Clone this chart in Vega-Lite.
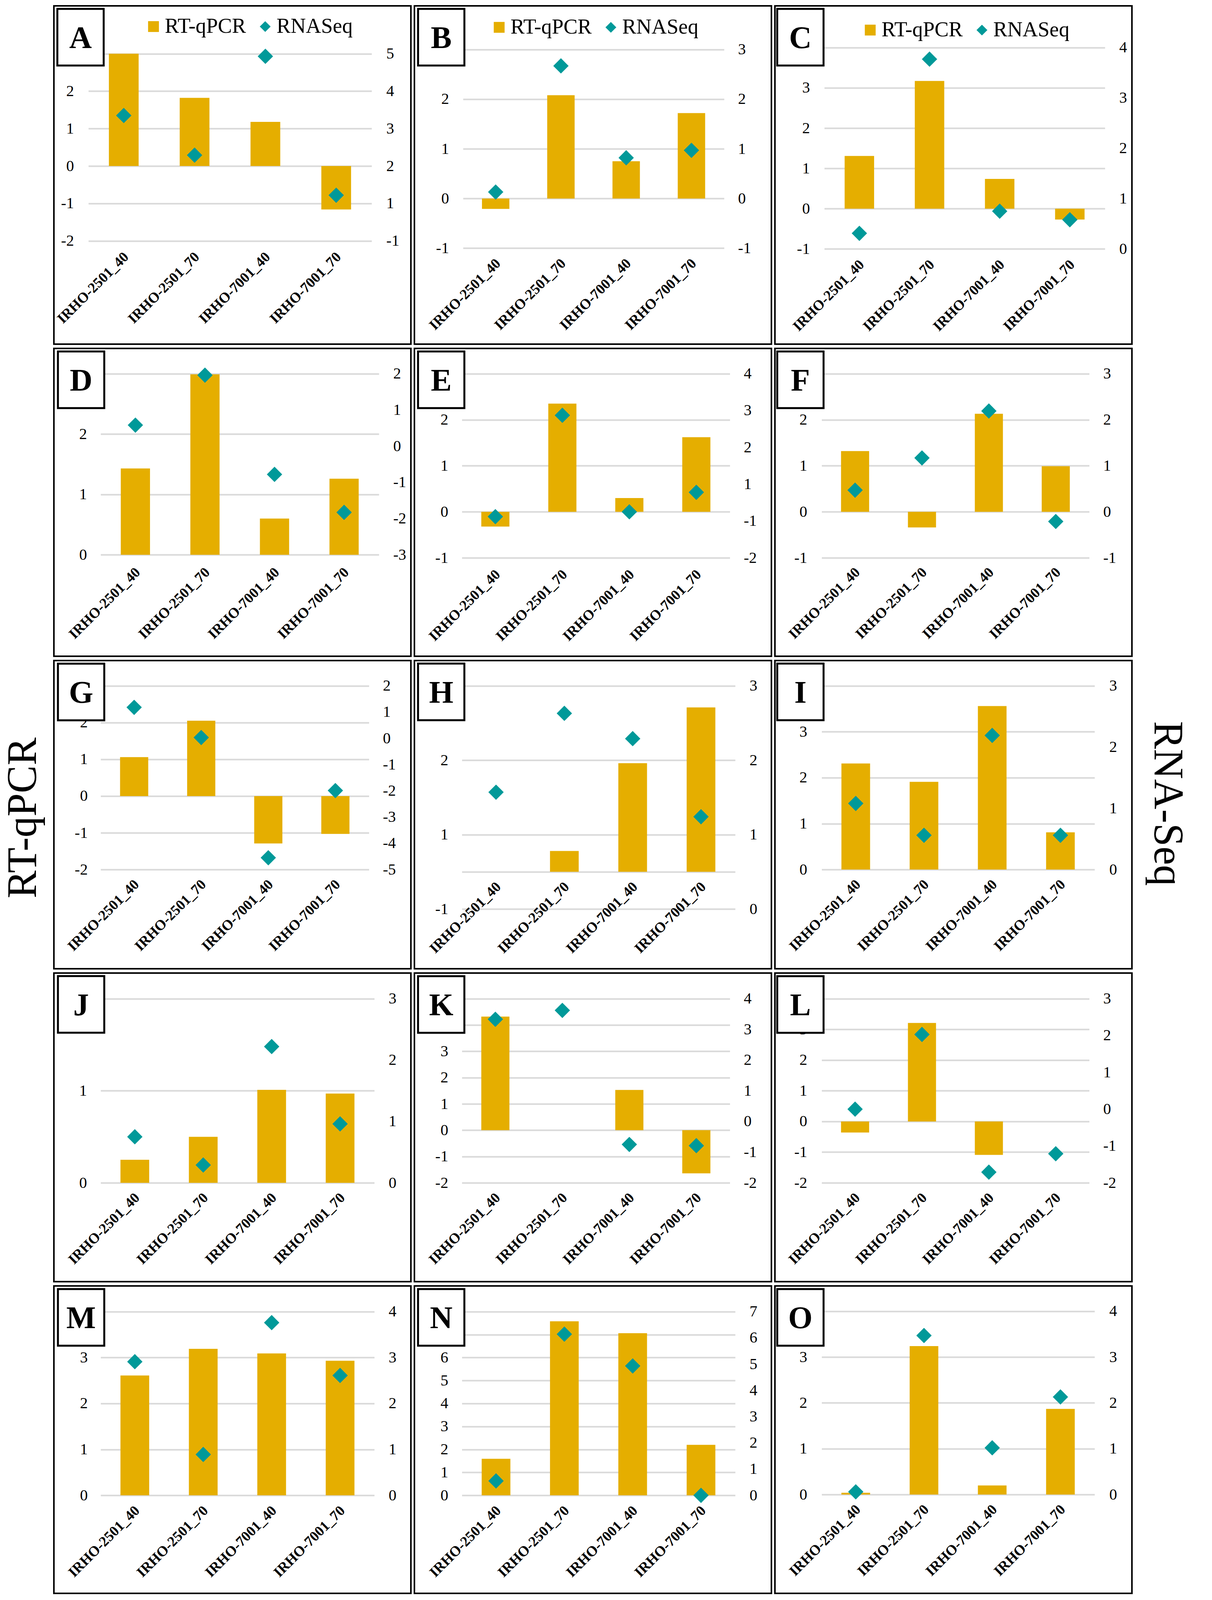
{
"$schema": "https://vega.github.io/schema/vega-lite/v6.json",
"background": "white",
"padding": {"left": 5, "top": 10, "right": 5, "bottom": 4},
"datasets": {
"panels": [{"panel":"A"},{"panel":"B"},{"panel":"C"},{"panel":"D"},{"panel":"E"},{"panel":"F"},{"panel":"G"},{"panel":"H"},{"panel":"I"},{"panel":"J"},{"panel":"K"},{"panel":"L"},{"panel":"M"},{"panel":"N"},{"panel":"O"}],
"vals": [
{"panel":"A","sample":"IRHO-2501_40","rtqpcr":3.0,"rnaseq":3.35},
{"panel":"A","sample":"IRHO-2501_70","rtqpcr":1.82,"rnaseq":2.29},
{"panel":"A","sample":"IRHO-7001_40","rtqpcr":1.18,"rnaseq":4.93},
{"panel":"A","sample":"IRHO-7001_70","rtqpcr":-1.16,"rnaseq":1.22},
{"panel":"B","sample":"IRHO-2501_40","rtqpcr":-0.21,"rnaseq":0.13},
{"panel":"B","sample":"IRHO-2501_70","rtqpcr":2.08,"rnaseq":2.67},
{"panel":"B","sample":"IRHO-7001_40","rtqpcr":0.75,"rnaseq":0.82},
{"panel":"B","sample":"IRHO-7001_70","rtqpcr":1.72,"rnaseq":0.97},
{"panel":"C","sample":"IRHO-2501_40","rtqpcr":1.31,"rnaseq":0.31},
{"panel":"C","sample":"IRHO-2501_70","rtqpcr":3.17,"rnaseq":3.77},
{"panel":"C","sample":"IRHO-7001_40","rtqpcr":0.74,"rnaseq":0.75},
{"panel":"C","sample":"IRHO-7001_70","rtqpcr":-0.27,"rnaseq":0.58},
{"panel":"D","sample":"IRHO-2501_40","rtqpcr":1.43,"rnaseq":0.58},
{"panel":"D","sample":"IRHO-2501_70","rtqpcr":2.99,"rnaseq":1.96},
{"panel":"D","sample":"IRHO-7001_40","rtqpcr":0.60,"rnaseq":-0.78},
{"panel":"D","sample":"IRHO-7001_70","rtqpcr":1.26,"rnaseq":-1.83},
{"panel":"E","sample":"IRHO-2501_40","rtqpcr":-0.32,"rnaseq":0.12},
{"panel":"E","sample":"IRHO-2501_70","rtqpcr":2.35,"rnaseq":2.87},
{"panel":"E","sample":"IRHO-7001_40","rtqpcr":0.30,"rnaseq":0.25},
{"panel":"E","sample":"IRHO-7001_70","rtqpcr":1.62,"rnaseq":0.78},
{"panel":"F","sample":"IRHO-2501_40","rtqpcr":1.32,"rnaseq":0.47},
{"panel":"F","sample":"IRHO-2501_70","rtqpcr":-0.34,"rnaseq":1.17},
{"panel":"F","sample":"IRHO-7001_40","rtqpcr":2.13,"rnaseq":2.19},
{"panel":"F","sample":"IRHO-7001_70","rtqpcr":0.99,"rnaseq":-0.21},
{"panel":"G","sample":"IRHO-2501_40","rtqpcr":1.06,"rnaseq":1.18},
{"panel":"G","sample":"IRHO-2501_70","rtqpcr":2.05,"rnaseq":0.03},
{"panel":"G","sample":"IRHO-7001_40","rtqpcr":-1.29,"rnaseq":-4.55},
{"panel":"G","sample":"IRHO-7001_70","rtqpcr":-1.03,"rnaseq":-1.99},
{"panel":"H","sample":"IRHO-2501_40","rtqpcr":0,"rnaseq":1.57},
{"panel":"H","sample":"IRHO-2501_70","rtqpcr":0.28,"rnaseq":2.63},
{"panel":"H","sample":"IRHO-7001_40","rtqpcr":1.46,"rnaseq":2.29},
{"panel":"H","sample":"IRHO-7001_70","rtqpcr":2.21,"rnaseq":1.24},
{"panel":"I","sample":"IRHO-2501_40","rtqpcr":2.31,"rnaseq":1.08},
{"panel":"I","sample":"IRHO-2501_70","rtqpcr":1.91,"rnaseq":0.56},
{"panel":"I","sample":"IRHO-7001_40","rtqpcr":3.56,"rnaseq":2.19},
{"panel":"I","sample":"IRHO-7001_70","rtqpcr":0.81,"rnaseq":0.56},
{"panel":"J","sample":"IRHO-2501_40","rtqpcr":0.25,"rnaseq":0.75},
{"panel":"J","sample":"IRHO-2501_70","rtqpcr":0.50,"rnaseq":0.29},
{"panel":"J","sample":"IRHO-7001_40","rtqpcr":1.01,"rnaseq":2.22},
{"panel":"J","sample":"IRHO-7001_70","rtqpcr":0.97,"rnaseq":0.96},
{"panel":"K","sample":"IRHO-2501_40","rtqpcr":4.32,"rnaseq":3.33},
{"panel":"K","sample":"IRHO-2501_70","rtqpcr":0,"rnaseq":3.62},
{"panel":"K","sample":"IRHO-7001_40","rtqpcr":1.53,"rnaseq":-0.75},
{"panel":"K","sample":"IRHO-7001_70","rtqpcr":-1.64,"rnaseq":-0.79},
{"panel":"L","sample":"IRHO-2501_40","rtqpcr":-0.36,"rnaseq":0.0},
{"panel":"L","sample":"IRHO-2501_70","rtqpcr":3.21,"rnaseq":2.03},
{"panel":"L","sample":"IRHO-7001_40","rtqpcr":-1.09,"rnaseq":-1.71},
{"panel":"L","sample":"IRHO-7001_70","rtqpcr":0,"rnaseq":-1.21},
{"panel":"M","sample":"IRHO-2501_40","rtqpcr":2.61,"rnaseq":2.91},
{"panel":"M","sample":"IRHO-2501_70","rtqpcr":3.19,"rnaseq":0.89},
{"panel":"M","sample":"IRHO-7001_40","rtqpcr":3.09,"rnaseq":3.76},
{"panel":"M","sample":"IRHO-7001_70","rtqpcr":2.93,"rnaseq":2.61},
{"panel":"N","sample":"IRHO-2501_40","rtqpcr":1.59,"rnaseq":0.55},
{"panel":"N","sample":"IRHO-2501_70","rtqpcr":7.58,"rnaseq":6.14},
{"panel":"N","sample":"IRHO-7001_40","rtqpcr":7.06,"rnaseq":4.93},
{"panel":"N","sample":"IRHO-7001_70","rtqpcr":2.20,"rnaseq":0.0},
{"panel":"O","sample":"IRHO-2501_40","rtqpcr":0.04,"rnaseq":0.06},
{"panel":"O","sample":"IRHO-2501_70","rtqpcr":3.24,"rnaseq":3.47},
{"panel":"O","sample":"IRHO-7001_40","rtqpcr":0.20,"rnaseq":1.02},
{"panel":"O","sample":"IRHO-7001_70","rtqpcr":1.87,"rnaseq":2.13}
]
},
"title": {"text": "RT-qPCR", "orient": "left", "anchor": "middle", "offset": 21, "dx": -48},
"hconcat": [
{
"title": {"text": "RNA-Seq", "orient": "right", "anchor": "middle", "offset": 34, "dx": 11},
"columns": 3,
"bounds": "flush",
"align": "each",
"spacing": {"row": 11, "column": 9},
"resolve": {"scale": {"color": "independent", "shape": "independent"}, "legend": {"color": "independent", "shape": "independent"}},
"concat": [
{"width":914,"height":866,"resolve":{"scale":{"y":"independent"}},"layer":[
{"layer":[
{"data":{"name":"vals"},"transform":[{"filter":"datum.panel == 'A'"}],"mark":{"type":"bar"},"encoding":{
"x":{"field":"sample","type":"nominal","scale":{"domain":["IRHO-2501_40","IRHO-2501_70","IRHO-7001_40","IRHO-7001_70"],"range":[88.2,813.4],"paddingInner":0.58,"paddingOuter":0.29},"axis":{"title":null,"offset":-242}},
"y":{"field":"rtqpcr","type":"quantitative","scale":{"domain":[-2,3],"range":[601.7,122.5],"nice":false,"zero":false},"axis":{"title":null,"offset":-51,"values":[-2,-1,0,1,2,3],"grid":true,"labelExpr":"datum.value >= 3 ? '' : (datum.value < 0 ? '-' : '') + abs(datum.value)"}},
"color":{"datum":"RT-qPCR","type":"nominal","scale":{"domain":["RT-qPCR","RNASeq"],"range":["#E5AE00","#009999"]},"legend":{"title":null,"orient":"none","legendX":228,"legendY":26,"direction":"horizontal"}}}},
{"data":{"name":"panels"},"transform":[{"filter":"datum.panel == 'A'"}],"mark":{"type":"point","shape":"M-0.818,-1L0.818,-1L0.818,1L-0.818,1Z","size":21025,"filled":true,"fill":"white","stroke":"black","strokeWidth":5,"opacity":1},"encoding":{"x":{"datum":"IRHO-2501_40","type":"nominal","bandPosition":-0.954,"axis":{"title":null}},"y":{"datum":3.44,"type":"quantitative","axis":{"title":null}}}},
{"data":{"name":"panels"},"transform":[{"filter":"datum.panel == 'A'"}],"mark":{"type":"text","font":"Liberation Serif","fontWeight":"bold","fontSize":80,"color":"black","align":"center","baseline":"middle","dy":4},"encoding":{"x":{"datum":"IRHO-2501_40","type":"nominal","bandPosition":-0.954,"axis":{"title":null}},"y":{"datum":3.44,"type":"quantitative","axis":{"title":null}},"text":{"field":"panel"}}}
]},
{"data":{"name":"vals"},"transform":[{"filter":"datum.panel == 'A'"}],"mark":{"type":"point","filled":true,"size":1540,"opacity":1},"encoding":{
"x":{"field":"sample","type":"nominal","axis":{"title":null}},
"y":{"field":"rnaseq","type":"quantitative","scale":{"domain":[0,5],"range":[601.7,122.5],"nice":false,"zero":false},"axis":{"title":null,"orient":"right","offset":-63.4,"values":[0,1,2,3,4,5],"grid":false,"labelExpr":"datum.value == 0 ? '-1' : '' + datum.value"}},
"color":{"datum":"RNASeq","type":"nominal","scale":{"domain":["RT-qPCR","RNASeq"],"range":["#E5AE00","#009999"]},"legend":{"title":null,"orient":"none","legendX":228,"legendY":26,"direction":"horizontal"}},
"shape":{"datum":"RNASeq","type":"nominal","scale":{"domain":["RT-qPCR","RNASeq"],"range":["square","diamond"]},"legend":{"title":null,"orient":"none","legendX":228,"legendY":26,"direction":"horizontal"}}}}
]},
{"width":914,"height":866,"resolve":{"scale":{"y":"independent"}},"layer":[
{"layer":[
{"data":{"name":"vals"},"transform":[{"filter":"datum.panel == 'B'"}],"mark":{"type":"bar"},"encoding":{
"x":{"field":"sample","type":"nominal","scale":{"domain":["IRHO-2501_40","IRHO-2501_70","IRHO-7001_40","IRHO-7001_70"],"range":[124.5,792.8],"paddingInner":0.58,"paddingOuter":0.29},"axis":{"title":null,"offset":-225.3}},
"y":{"field":"rtqpcr","type":"quantitative","scale":{"domain":[-1,3],"range":[620.3,111.7],"nice":false,"zero":false},"axis":{"title":null,"offset":-88.2,"values":[-1,0,1,2,3],"grid":true,"labelExpr":"datum.value >= 3 ? '' : (datum.value < 0 ? '-' : '') + abs(datum.value)"}},
"color":{"datum":"RT-qPCR","type":"nominal","scale":{"domain":["RT-qPCR","RNASeq"],"range":["#E5AE00","#009999"]},"legend":{"title":null,"orient":"none","legendX":190,"legendY":28,"direction":"horizontal"}}}},
{"data":{"name":"panels"},"transform":[{"filter":"datum.panel == 'B'"}],"mark":{"type":"point","shape":"M-0.818,-1L0.818,-1L0.818,1L-0.818,1Z","size":21025,"filled":true,"fill":"white","stroke":"black","strokeWidth":5,"opacity":1},"encoding":{"x":{"datum":"IRHO-2501_40","type":"nominal","bandPosition":-1.4865,"axis":{"title":null}},"y":{"datum":3.247,"type":"quantitative","axis":{"title":null}}}},
{"data":{"name":"panels"},"transform":[{"filter":"datum.panel == 'B'"}],"mark":{"type":"text","font":"Liberation Serif","fontWeight":"bold","fontSize":80,"color":"black","align":"center","baseline":"middle","dy":4},"encoding":{"x":{"datum":"IRHO-2501_40","type":"nominal","bandPosition":-1.4865,"axis":{"title":null}},"y":{"datum":3.247,"type":"quantitative","axis":{"title":null}},"text":{"field":"panel"}}}
]},
{"data":{"name":"vals"},"transform":[{"filter":"datum.panel == 'B'"}],"mark":{"type":"point","filled":true,"size":1540,"opacity":1},"encoding":{
"x":{"field":"sample","type":"nominal","axis":{"title":null}},
"y":{"field":"rnaseq","type":"quantitative","scale":{"domain":[-1,3],"range":[620.3,111.7],"nice":false,"zero":false},"axis":{"title":null,"orient":"right","offset":-85.9,"values":[-1,0,1,2,3],"grid":false,"labelExpr":"(datum.value < 0 ? '-' : '') + abs(datum.value)"}},
"color":{"datum":"RNASeq","type":"nominal","scale":{"domain":["RT-qPCR","RNASeq"],"range":["#E5AE00","#009999"]},"legend":{"title":null,"orient":"none","legendX":190,"legendY":28,"direction":"horizontal"}},
"shape":{"datum":"RNASeq","type":"nominal","scale":{"domain":["RT-qPCR","RNASeq"],"range":["square","diamond"]},"legend":{"title":null,"orient":"none","legendX":190,"legendY":28,"direction":"horizontal"}}}}
]},
{"width":914,"height":866,"resolve":{"scale":{"y":"independent"}},"layer":[
{"layer":[
{"data":{"name":"vals"},"transform":[{"filter":"datum.panel == 'C'"}],"mark":{"type":"bar"},"encoding":{
"x":{"field":"sample","type":"nominal","scale":{"domain":["IRHO-2501_40","IRHO-2501_70","IRHO-7001_40","IRHO-7001_70"],"range":[126.4,844.8],"paddingInner":0.58,"paddingOuter":0.29},"axis":{"title":null,"offset":-222.4}},
"y":{"field":"rtqpcr","type":"quantitative","scale":{"domain":[-1,4],"range":[622.3,106.8],"nice":false,"zero":false},"axis":{"title":null,"offset":-89.2,"values":[-1,0,1,2,3,4],"grid":true,"labelExpr":"datum.value >= 4 ? '' : (datum.value < 0 ? '-' : '') + abs(datum.value)"}},
"color":{"datum":"RT-qPCR","type":"nominal","scale":{"domain":["RT-qPCR","RNASeq"],"range":["#E5AE00","#009999"]},"legend":{"title":null,"orient":"none","legendX":217,"legendY":35,"direction":"horizontal"}}}},
{"data":{"name":"panels"},"transform":[{"filter":"datum.panel == 'C'"}],"mark":{"type":"point","shape":"M-0.818,-1L0.818,-1L0.818,1L-0.818,1Z","size":21025,"filled":true,"fill":"white","stroke":"black","strokeWidth":5,"opacity":1},"encoding":{"x":{"datum":"IRHO-2501_40","type":"nominal","bandPosition":-1.5025,"axis":{"title":null}},"y":{"datum":4.257,"type":"quantitative","axis":{"title":null}}}},
{"data":{"name":"panels"},"transform":[{"filter":"datum.panel == 'C'"}],"mark":{"type":"text","font":"Liberation Serif","fontWeight":"bold","fontSize":80,"color":"black","align":"center","baseline":"middle","dy":4},"encoding":{"x":{"datum":"IRHO-2501_40","type":"nominal","bandPosition":-1.5025,"axis":{"title":null}},"y":{"datum":4.257,"type":"quantitative","axis":{"title":null}},"text":{"field":"panel"}}}
]},
{"data":{"name":"vals"},"transform":[{"filter":"datum.panel == 'C'"}],"mark":{"type":"point","filled":true,"size":1540,"opacity":1},"encoding":{
"x":{"field":"sample","type":"nominal","axis":{"title":null}},
"y":{"field":"rnaseq","type":"quantitative","scale":{"domain":[0,4],"range":[622.3,106.8],"nice":false,"zero":false},"axis":{"title":null,"orient":"right","offset":-33,"values":[0,1,2,3,4],"grid":false,"labelExpr":"(datum.value < 0 ? '-' : '') + abs(datum.value)"}},
"color":{"datum":"RNASeq","type":"nominal","scale":{"domain":["RT-qPCR","RNASeq"],"range":["#E5AE00","#009999"]},"legend":{"title":null,"orient":"none","legendX":217,"legendY":35,"direction":"horizontal"}},
"shape":{"datum":"RNASeq","type":"nominal","scale":{"domain":["RT-qPCR","RNASeq"],"range":["square","diamond"]},"legend":{"title":null,"orient":"none","legendX":217,"legendY":35,"direction":"horizontal"}}}}
]},
{"width":914,"height":788,"resolve":{"scale":{"y":"independent"}},"layer":[
{"layer":[
{"data":{"name":"vals"},"transform":[{"filter":"datum.panel == 'D'"}],"mark":{"type":"bar","color":"#E5AE00"},"encoding":{
"x":{"field":"sample","type":"nominal","scale":{"domain":["IRHO-2501_40","IRHO-2501_70","IRHO-7001_40","IRHO-7001_70"],"range":[119.6,832],"paddingInner":0.58,"paddingOuter":0.29},"axis":{"title":null,"offset":-233.6}},
"y":{"field":"rtqpcr","type":"quantitative","scale":{"domain":[0,3],"range":[528.2,64.7],"nice":false,"zero":false},"axis":{"title":null,"offset":-84.3,"values":[0,1,2,3],"grid":true,"labelExpr":"datum.value >= 3 ? '' : (datum.value < 0 ? '-' : '') + abs(datum.value)"}}}},
{"data":{"name":"panels"},"transform":[{"filter":"datum.panel == 'D'"}],"mark":{"type":"point","shape":"M-0.818,-1L0.818,-1L0.818,1L-0.818,1Z","size":21025,"filled":true,"fill":"white","stroke":"black","strokeWidth":5,"opacity":1},"encoding":{"x":{"datum":"IRHO-2501_40","type":"nominal","bandPosition":-1.3586,"axis":{"title":null}},"y":{"datum":2.899,"type":"quantitative","axis":{"title":null}}}},
{"data":{"name":"panels"},"transform":[{"filter":"datum.panel == 'D'"}],"mark":{"type":"text","font":"Liberation Serif","fontWeight":"bold","fontSize":80,"color":"black","align":"center","baseline":"middle","dy":4},"encoding":{"x":{"datum":"IRHO-2501_40","type":"nominal","bandPosition":-1.3586,"axis":{"title":null}},"y":{"datum":2.899,"type":"quantitative","axis":{"title":null}},"text":{"field":"panel"}}}
]},
{"data":{"name":"vals"},"transform":[{"filter":"datum.panel == 'D'"}],"mark":{"type":"point","shape":"diamond","filled":true,"size":1540,"opacity":1,"color":"#009999"},"encoding":{
"x":{"field":"sample","type":"nominal","axis":{"title":null}},
"y":{"field":"rnaseq","type":"quantitative","scale":{"domain":[-3,2],"range":[528.2,64.7],"nice":false,"zero":false},"axis":{"title":null,"orient":"right","offset":-45.7,"values":[-3,-2,-1,0,1,2],"grid":false,"labelExpr":"(datum.value < 0 ? '-' : '') + abs(datum.value)"}}}}
]},
{"width":914,"height":788,"resolve":{"scale":{"y":"independent"}},"layer":[
{"layer":[
{"data":{"name":"vals"},"transform":[{"filter":"datum.panel == 'E'"}],"mark":{"type":"bar","color":"#E5AE00"},"encoding":{
"x":{"field":"sample","type":"nominal","scale":{"domain":["IRHO-2501_40","IRHO-2501_70","IRHO-7001_40","IRHO-7001_70"],"range":[121.5,807.5],"paddingInner":0.58,"paddingOuter":0.29},"axis":{"title":null,"offset":-228.1}},
"y":{"field":"rtqpcr","type":"quantitative","scale":{"domain":[-1,3],"range":[536.1,64.7],"nice":false,"zero":false},"axis":{"title":null,"offset":-86.2,"values":[-1,0,1,2,3],"grid":true,"labelExpr":"datum.value >= 3 ? '' : (datum.value < 0 ? '-' : '') + abs(datum.value)"}}}},
{"data":{"name":"panels"},"transform":[{"filter":"datum.panel == 'E'"}],"mark":{"type":"point","shape":"M-0.818,-1L0.818,-1L0.818,1L-0.818,1Z","size":21025,"filled":true,"fill":"white","stroke":"black","strokeWidth":5,"opacity":1},"encoding":{"x":{"datum":"IRHO-2501_40","type":"nominal","bandPosition":-1.4252,"axis":{"title":null}},"y":{"datum":2.867,"type":"quantitative","axis":{"title":null}}}},
{"data":{"name":"panels"},"transform":[{"filter":"datum.panel == 'E'"}],"mark":{"type":"text","font":"Liberation Serif","fontWeight":"bold","fontSize":80,"color":"black","align":"center","baseline":"middle","dy":4},"encoding":{"x":{"datum":"IRHO-2501_40","type":"nominal","bandPosition":-1.4252,"axis":{"title":null}},"y":{"datum":2.867,"type":"quantitative","axis":{"title":null}},"text":{"field":"panel"}}}
]},
{"data":{"name":"vals"},"transform":[{"filter":"datum.panel == 'E'"}],"mark":{"type":"point","shape":"diamond","filled":true,"size":1540,"opacity":1,"color":"#009999"},"encoding":{
"x":{"field":"sample","type":"nominal","axis":{"title":null}},
"y":{"field":"rnaseq","type":"quantitative","scale":{"domain":[-1,4],"range":[536.1,64.7],"nice":false,"zero":false},"axis":{"title":null,"orient":"right","offset":-71.2,"values":[-1,0,1,2,3,4],"grid":false,"labelExpr":"datum.value == 0 ? '-1' : datum.value == -1 ? '-2' : '' + datum.value"}}}}
]},
{"width":914,"height":788,"resolve":{"scale":{"y":"independent"}},"layer":[
{"layer":[
{"data":{"name":"vals"},"transform":[{"filter":"datum.panel == 'F'"}],"mark":{"type":"bar","color":"#E5AE00"},"encoding":{
"x":{"field":"sample","type":"nominal","scale":{"domain":["IRHO-2501_40","IRHO-2501_70","IRHO-7001_40","IRHO-7001_70"],"range":[119.6,804.6],"paddingInner":0.58,"paddingOuter":0.29},"axis":{"title":null,"offset":-233.6}},
"y":{"field":"rtqpcr","type":"quantitative","scale":{"domain":[-1,3],"range":[536.1,64.7],"nice":false,"zero":false},"axis":{"title":null,"offset":-82.3,"values":[-1,0,1,2,3],"grid":true,"labelExpr":"datum.value >= 3 ? '' : (datum.value < 0 ? '-' : '') + abs(datum.value)"}}}},
{"data":{"name":"panels"},"transform":[{"filter":"datum.panel == 'F'"}],"mark":{"type":"point","shape":"M-0.818,-1L0.818,-1L0.818,1L-0.818,1Z","size":21025,"filled":true,"fill":"white","stroke":"black","strokeWidth":5,"opacity":1},"encoding":{"x":{"datum":"IRHO-2501_40","type":"nominal","bandPosition":-1.4467,"axis":{"title":null}},"y":{"datum":2.867,"type":"quantitative","axis":{"title":null}}}},
{"data":{"name":"panels"},"transform":[{"filter":"datum.panel == 'F'"}],"mark":{"type":"text","font":"Liberation Serif","fontWeight":"bold","fontSize":80,"color":"black","align":"center","baseline":"middle","dy":4},"encoding":{"x":{"datum":"IRHO-2501_40","type":"nominal","bandPosition":-1.4467,"axis":{"title":null}},"y":{"datum":2.867,"type":"quantitative","axis":{"title":null}},"text":{"field":"panel"}}}
]},
{"data":{"name":"vals"},"transform":[{"filter":"datum.panel == 'F'"}],"mark":{"type":"point","shape":"diamond","filled":true,"size":1540,"opacity":1,"color":"#009999"},"encoding":{
"x":{"field":"sample","type":"nominal","axis":{"title":null}},
"y":{"field":"rnaseq","type":"quantitative","scale":{"domain":[-1,3],"range":[536.1,64.7],"nice":false,"zero":false},"axis":{"title":null,"orient":"right","offset":-74.1,"values":[-1,0,1,2,3],"grid":false,"labelExpr":"(datum.value < 0 ? '-' : '') + abs(datum.value)"}}}}
]},
{"width":914,"height":789,"resolve":{"scale":{"y":"independent"}},"layer":[
{"layer":[
{"data":{"name":"vals"},"transform":[{"filter":"datum.panel == 'G'"}],"mark":{"type":"bar","color":"#E5AE00"},"encoding":{
"x":{"field":"sample","type":"nominal","scale":{"domain":["IRHO-2501_40","IRHO-2501_70","IRHO-7001_40","IRHO-7001_70"],"range":[119.6,806.5],"paddingInner":0.58,"paddingOuter":0.29},"axis":{"title":null,"offset":-234.6}},
"y":{"field":"rtqpcr","type":"quantitative","scale":{"domain":[-2,3],"range":[535.1,64.7],"nice":false,"zero":false},"axis":{"title":null,"offset":-86.2,"values":[-2,-1,0,1,2,3],"grid":true,"labelExpr":"datum.value >= 3 ? '' : (datum.value < 0 ? '-' : '') + abs(datum.value)"}}}},
{"data":{"name":"panels"},"transform":[{"filter":"datum.panel == 'G'"}],"mark":{"type":"point","shape":"M-0.818,-1L0.818,-1L0.818,1L-0.818,1Z","size":21025,"filled":true,"fill":"white","stroke":"black","strokeWidth":5,"opacity":1},"encoding":{"x":{"datum":"IRHO-2501_40","type":"nominal","bandPosition":-1.3833,"axis":{"title":null}},"y":{"datum":2.833,"type":"quantitative","axis":{"title":null}}}},
{"data":{"name":"panels"},"transform":[{"filter":"datum.panel == 'G'"}],"mark":{"type":"text","font":"Liberation Serif","fontWeight":"bold","fontSize":80,"color":"black","align":"center","baseline":"middle","dy":4},"encoding":{"x":{"datum":"IRHO-2501_40","type":"nominal","bandPosition":-1.3833,"axis":{"title":null}},"y":{"datum":2.833,"type":"quantitative","axis":{"title":null}},"text":{"field":"panel"}}}
]},
{"data":{"name":"vals"},"transform":[{"filter":"datum.panel == 'G'"}],"mark":{"type":"point","shape":"diamond","filled":true,"size":1540,"opacity":1,"color":"#009999"},"encoding":{
"x":{"field":"sample","type":"nominal","axis":{"title":null}},
"y":{"field":"rnaseq","type":"quantitative","scale":{"domain":[-5,2],"range":[535.1,64.7],"nice":false,"zero":false},"axis":{"title":null,"orient":"right","offset":-72.2,"values":[-5,-4,-3,-2,-1,0,1,2],"grid":false,"labelExpr":"(datum.value < 0 ? '-' : '') + abs(datum.value)"}}}}
]},
{"width":914,"height":789,"resolve":{"scale":{"y":"independent"}},"layer":[
{"layer":[
{"data":{"name":"vals"},"transform":[{"filter":"datum.panel == 'H'"}],"mark":{"type":"bar","color":"#E5AE00"},"encoding":{
"x":{"field":"sample","type":"nominal","scale":{"domain":["IRHO-2501_40","IRHO-2501_70","IRHO-7001_40","IRHO-7001_70"],"range":[121.5,821.2],"paddingInner":0.58,"paddingOuter":0.29},"axis":{"title":null,"offset":-228.7}},
"y":{"field":"rtqpcr","type":"quantitative","scale":{"domain":[-0.5,2.5],"range":[636,64.7],"nice":false,"zero":false},"axis":{"title":null,"offset":-86.2,"values":[-0.5,0,0.5,1.5,2.5],"grid":true,"labelExpr":"datum.value == -0.5 ? '-1' : datum.value == 0.5 ? '1' : datum.value == 1.5 ? '2' : ''"}}}},
{"data":{"name":"panels"},"transform":[{"filter":"datum.panel == 'H'"}],"mark":{"type":"point","shape":"M-0.818,-1L0.818,-1L0.818,1L-0.818,1Z","size":21025,"filled":true,"fill":"white","stroke":"black","strokeWidth":5,"opacity":1},"encoding":{"x":{"datum":"IRHO-2501_40","type":"nominal","bandPosition":-1.4108,"axis":{"title":null}},"y":{"datum":2.418,"type":"quantitative","axis":{"title":null}}}},
{"data":{"name":"panels"},"transform":[{"filter":"datum.panel == 'H'"}],"mark":{"type":"text","font":"Liberation Serif","fontWeight":"bold","fontSize":80,"color":"black","align":"center","baseline":"middle","dy":4},"encoding":{"x":{"datum":"IRHO-2501_40","type":"nominal","bandPosition":-1.4108,"axis":{"title":null}},"y":{"datum":2.418,"type":"quantitative","axis":{"title":null}},"text":{"field":"panel"}}}
]},
{"data":{"name":"vals"},"transform":[{"filter":"datum.panel == 'H'"}],"mark":{"type":"point","shape":"diamond","filled":true,"size":1540,"opacity":1,"color":"#009999"},"encoding":{
"x":{"field":"sample","type":"nominal","axis":{"title":null}},
"y":{"field":"rnaseq","type":"quantitative","scale":{"domain":[0,3],"range":[636,64.7],"nice":false,"zero":false},"axis":{"title":null,"orient":"right","offset":-56.5,"values":[0,1,2,3],"grid":false,"labelExpr":"(datum.value < 0 ? '-' : '') + abs(datum.value)"}}}}
]},
{"width":914,"height":789,"resolve":{"scale":{"y":"independent"}},"layer":[
{"layer":[
{"data":{"name":"vals"},"transform":[{"filter":"datum.panel == 'I'"}],"mark":{"type":"bar","color":"#E5AE00"},"encoding":{
"x":{"field":"sample","type":"nominal","scale":{"domain":["IRHO-2501_40","IRHO-2501_70","IRHO-7001_40","IRHO-7001_70"],"range":[119.6,818.3],"paddingInner":0.58,"paddingOuter":0.29},"axis":{"title":null,"offset":-234.6}},
"y":{"field":"rtqpcr","type":"quantitative","scale":{"domain":[0,4],"range":[535.1,64.7],"nice":false,"zero":false},"axis":{"title":null,"offset":-82.3,"values":[0,1,2,3,4],"grid":true,"labelExpr":"datum.value >= 4 ? '' : (datum.value < 0 ? '-' : '') + abs(datum.value)"}}}},
{"data":{"name":"panels"},"transform":[{"filter":"datum.panel == 'I'"}],"mark":{"type":"point","shape":"M-0.818,-1L0.818,-1L0.818,1L-0.818,1Z","size":21025,"filled":true,"fill":"white","stroke":"black","strokeWidth":5,"opacity":1},"encoding":{"x":{"datum":"IRHO-2501_40","type":"nominal","bandPosition":-1.4318,"axis":{"title":null}},"y":{"datum":3.867,"type":"quantitative","axis":{"title":null}}}},
{"data":{"name":"panels"},"transform":[{"filter":"datum.panel == 'I'"}],"mark":{"type":"text","font":"Liberation Serif","fontWeight":"bold","fontSize":80,"color":"black","align":"center","baseline":"middle","dy":4},"encoding":{"x":{"datum":"IRHO-2501_40","type":"nominal","bandPosition":-1.4318,"axis":{"title":null}},"y":{"datum":3.867,"type":"quantitative","axis":{"title":null}},"text":{"field":"panel"}}}
]},
{"data":{"name":"vals"},"transform":[{"filter":"datum.panel == 'I'"}],"mark":{"type":"point","shape":"diamond","filled":true,"size":1540,"opacity":1,"color":"#009999"},"encoding":{
"x":{"field":"sample","type":"nominal","axis":{"title":null}},
"y":{"field":"rnaseq","type":"quantitative","scale":{"domain":[0,3],"range":[535.1,64.7],"nice":false,"zero":false},"axis":{"title":null,"orient":"right","offset":-58.5,"values":[0,1,2,3],"grid":false,"labelExpr":"(datum.value < 0 ? '-' : '') + abs(datum.value)"}}}}
]},
{"width":914,"height":790,"resolve":{"scale":{"y":"independent"}},"layer":[
{"layer":[
{"data":{"name":"vals"},"transform":[{"filter":"datum.panel == 'J'"}],"mark":{"type":"bar","color":"#E5AE00"},"encoding":{
"x":{"field":"sample","type":"nominal","scale":{"domain":["IRHO-2501_40","IRHO-2501_70","IRHO-7001_40","IRHO-7001_70"],"range":[119.6,820.3],"paddingInner":0.58,"paddingOuter":0.29},"axis":{"title":null,"offset":-233.6}},
"y":{"field":"rtqpcr","type":"quantitative","scale":{"domain":[0,2],"range":[537,65.7],"nice":false,"zero":false},"axis":{"title":null,"offset":-84.3,"values":[0,1,2],"grid":true,"labelExpr":"datum.value >= 2 ? '' : (datum.value < 0 ? '-' : '') + abs(datum.value)"}}}},
{"data":{"name":"panels"},"transform":[{"filter":"datum.panel == 'J'"}],"mark":{"type":"point","shape":"M-0.818,-1L0.818,-1L0.818,1L-0.818,1Z","size":21025,"filled":true,"fill":"white","stroke":"black","strokeWidth":5,"opacity":1},"encoding":{"x":{"datum":"IRHO-2501_40","type":"nominal","bandPosition":-1.3698,"axis":{"title":null}},"y":{"datum":1.938,"type":"quantitative","axis":{"title":null}}}},
{"data":{"name":"panels"},"transform":[{"filter":"datum.panel == 'J'"}],"mark":{"type":"text","font":"Liberation Serif","fontWeight":"bold","fontSize":80,"color":"black","align":"center","baseline":"middle","dy":4},"encoding":{"x":{"datum":"IRHO-2501_40","type":"nominal","bandPosition":-1.3698,"axis":{"title":null}},"y":{"datum":1.938,"type":"quantitative","axis":{"title":null}},"text":{"field":"panel"}}}
]},
{"data":{"name":"vals"},"transform":[{"filter":"datum.panel == 'J'"}],"mark":{"type":"point","shape":"diamond","filled":true,"size":1540,"opacity":1,"color":"#009999"},"encoding":{
"x":{"field":"sample","type":"nominal","axis":{"title":null}},
"y":{"field":"rnaseq","type":"quantitative","scale":{"domain":[0,3],"range":[537,65.7],"nice":false,"zero":false},"axis":{"title":null,"orient":"right","offset":-57.5,"values":[0,1,2,3],"grid":false,"labelExpr":"(datum.value < 0 ? '-' : '') + abs(datum.value)"}}}}
]},
{"width":914,"height":790,"resolve":{"scale":{"y":"independent"}},"layer":[
{"layer":[
{"data":{"name":"vals"},"transform":[{"filter":"datum.panel == 'K'"}],"mark":{"type":"bar","color":"#E5AE00"},"encoding":{
"x":{"field":"sample","type":"nominal","scale":{"domain":["IRHO-2501_40","IRHO-2501_70","IRHO-7001_40","IRHO-7001_70"],"range":[121.5,807.5],"paddingInner":0.58,"paddingOuter":0.29},"axis":{"title":null,"offset":-233.6}},
"y":{"field":"rtqpcr","type":"quantitative","scale":{"domain":[-2,5],"range":[537,65.7],"nice":false,"zero":false},"axis":{"title":null,"offset":-86.2,"values":[-2,-1,0,1,2,3,4,5],"grid":true,"labelExpr":"datum.value >= 4 ? '' : (datum.value < 0 ? '-' : '') + abs(datum.value)"}}}},
{"data":{"name":"panels"},"transform":[{"filter":"datum.panel == 'K'"}],"mark":{"type":"point","shape":"M-0.818,-1L0.818,-1L0.818,1L-0.818,1Z","size":21025,"filled":true,"fill":"white","stroke":"black","strokeWidth":5,"opacity":1},"encoding":{"x":{"datum":"IRHO-2501_40","type":"nominal","bandPosition":-1.4252,"axis":{"title":null}},"y":{"datum":4.782,"type":"quantitative","axis":{"title":null}}}},
{"data":{"name":"panels"},"transform":[{"filter":"datum.panel == 'K'"}],"mark":{"type":"text","font":"Liberation Serif","fontWeight":"bold","fontSize":80,"color":"black","align":"center","baseline":"middle","dy":4},"encoding":{"x":{"datum":"IRHO-2501_40","type":"nominal","bandPosition":-1.4252,"axis":{"title":null}},"y":{"datum":4.782,"type":"quantitative","axis":{"title":null}},"text":{"field":"panel"}}}
]},
{"data":{"name":"vals"},"transform":[{"filter":"datum.panel == 'K'"}],"mark":{"type":"point","shape":"diamond","filled":true,"size":1540,"opacity":1,"color":"#009999"},"encoding":{
"x":{"field":"sample","type":"nominal","axis":{"title":null}},
"y":{"field":"rnaseq","type":"quantitative","scale":{"domain":[-2,4],"range":[537,65.7],"nice":false,"zero":false},"axis":{"title":null,"orient":"right","offset":-71.2,"values":[-2,-1,0,1,2,3,4],"grid":false,"labelExpr":"(datum.value < 0 ? '-' : '') + abs(datum.value)"}}}}
]},
{"width":914,"height":790,"resolve":{"scale":{"y":"independent"}},"layer":[
{"layer":[
{"data":{"name":"vals"},"transform":[{"filter":"datum.panel == 'L'"}],"mark":{"type":"bar","color":"#E5AE00"},"encoding":{
"x":{"field":"sample","type":"nominal","scale":{"domain":["IRHO-2501_40","IRHO-2501_70","IRHO-7001_40","IRHO-7001_70"],"range":[119.6,804.6],"paddingInner":0.58,"paddingOuter":0.29},"axis":{"title":null,"offset":-233.6}},
"y":{"field":"rtqpcr","type":"quantitative","scale":{"domain":[-2,4],"range":[537,65.7],"nice":false,"zero":false},"axis":{"title":null,"offset":-82.3,"values":[-2,-1,0,1,2,3,4],"grid":true,"labelExpr":"datum.value >= 4 ? '' : (datum.value < 0 ? '-' : '') + abs(datum.value)"}}}},
{"data":{"name":"panels"},"transform":[{"filter":"datum.panel == 'L'"}],"mark":{"type":"point","shape":"M-0.818,-1L0.818,-1L0.818,1L-0.818,1Z","size":21025,"filled":true,"fill":"white","stroke":"black","strokeWidth":5,"opacity":1},"encoding":{"x":{"datum":"IRHO-2501_40","type":"nominal","bandPosition":-1.4467,"axis":{"title":null}},"y":{"datum":3.813,"type":"quantitative","axis":{"title":null}}}},
{"data":{"name":"panels"},"transform":[{"filter":"datum.panel == 'L'"}],"mark":{"type":"text","font":"Liberation Serif","fontWeight":"bold","fontSize":80,"color":"black","align":"center","baseline":"middle","dy":4},"encoding":{"x":{"datum":"IRHO-2501_40","type":"nominal","bandPosition":-1.4467,"axis":{"title":null}},"y":{"datum":3.813,"type":"quantitative","axis":{"title":null}},"text":{"field":"panel"}}}
]},
{"data":{"name":"vals"},"transform":[{"filter":"datum.panel == 'L'"}],"mark":{"type":"point","shape":"diamond","filled":true,"size":1540,"opacity":1,"color":"#009999"},"encoding":{
"x":{"field":"sample","type":"nominal","axis":{"title":null}},
"y":{"field":"rnaseq","type":"quantitative","scale":{"domain":[-2,3],"range":[537,65.7],"nice":false,"zero":false},"axis":{"title":null,"orient":"right","offset":-74.1,"values":[-2,-1,0,1,2,3],"grid":false,"labelExpr":"(datum.value < 0 ? '-' : '') + abs(datum.value)"}}}}
]},
{"width":914,"height":787,"resolve":{"scale":{"y":"independent"}},"layer":[
{"layer":[
{"data":{"name":"vals"},"transform":[{"filter":"datum.panel == 'M'"}],"mark":{"type":"bar","color":"#E5AE00"},"encoding":{
"x":{"field":"sample","type":"nominal","scale":{"domain":["IRHO-2501_40","IRHO-2501_70","IRHO-7001_40","IRHO-7001_70"],"range":[119.6,820.3],"paddingInner":0.58,"paddingOuter":0.29},"axis":{"title":null,"offset":-230.6}},
"y":{"field":"rtqpcr","type":"quantitative","scale":{"domain":[0,4],"range":[536.1,65.7],"nice":false,"zero":false},"axis":{"title":null,"offset":-86.2,"values":[0,1,2,3,4],"grid":true,"labelExpr":"datum.value >= 4 ? '' : (datum.value < 0 ? '-' : '') + abs(datum.value)"}}}},
{"data":{"name":"panels"},"transform":[{"filter":"datum.panel == 'M'"}],"mark":{"type":"point","shape":"M-0.818,-1L0.818,-1L0.818,1L-0.818,1Z","size":21025,"filled":true,"fill":"white","stroke":"black","strokeWidth":5,"opacity":1},"encoding":{"x":{"datum":"IRHO-2501_40","type":"nominal","bandPosition":-1.3698,"axis":{"title":null}},"y":{"datum":3.875,"type":"quantitative","axis":{"title":null}}}},
{"data":{"name":"panels"},"transform":[{"filter":"datum.panel == 'M'"}],"mark":{"type":"text","font":"Liberation Serif","fontWeight":"bold","fontSize":80,"color":"black","align":"center","baseline":"middle","dy":4},"encoding":{"x":{"datum":"IRHO-2501_40","type":"nominal","bandPosition":-1.3698,"axis":{"title":null}},"y":{"datum":3.875,"type":"quantitative","axis":{"title":null}},"text":{"field":"panel"}}}
]},
{"data":{"name":"vals"},"transform":[{"filter":"datum.panel == 'M'"}],"mark":{"type":"point","shape":"diamond","filled":true,"size":1540,"opacity":1,"color":"#009999"},"encoding":{
"x":{"field":"sample","type":"nominal","axis":{"title":null}},
"y":{"field":"rnaseq","type":"quantitative","scale":{"domain":[0,4],"range":[536.1,65.7],"nice":false,"zero":false},"axis":{"title":null,"orient":"right","offset":-57.5,"values":[0,1,2,3,4],"grid":false,"labelExpr":"(datum.value < 0 ? '-' : '') + abs(datum.value)"}}}}
]},
{"width":914,"height":787,"resolve":{"scale":{"y":"independent"}},"layer":[
{"layer":[
{"data":{"name":"vals"},"transform":[{"filter":"datum.panel == 'N'"}],"mark":{"type":"bar","color":"#E5AE00"},"encoding":{
"x":{"field":"sample","type":"nominal","scale":{"domain":["IRHO-2501_40","IRHO-2501_70","IRHO-7001_40","IRHO-7001_70"],"range":[121.5,821.2],"paddingInner":0.58,"paddingOuter":0.29},"axis":{"title":null,"offset":-230.6}},
"y":{"field":"rtqpcr","type":"quantitative","scale":{"domain":[0,8],"range":[536.1,65.7],"nice":false,"zero":false},"axis":{"title":null,"offset":-86.2,"values":[0,1,2,3,4,5,6,7,8],"grid":true,"labelExpr":"datum.value >= 7 ? '' : (datum.value < 0 ? '-' : '') + abs(datum.value)"}}}},
{"data":{"name":"panels"},"transform":[{"filter":"datum.panel == 'N'"}],"mark":{"type":"point","shape":"M-0.818,-1L0.818,-1L0.818,1L-0.818,1Z","size":21025,"filled":true,"fill":"white","stroke":"black","strokeWidth":5,"opacity":1},"encoding":{"x":{"datum":"IRHO-2501_40","type":"nominal","bandPosition":-1.4108,"axis":{"title":null}},"y":{"datum":7.75,"type":"quantitative","axis":{"title":null}}}},
{"data":{"name":"panels"},"transform":[{"filter":"datum.panel == 'N'"}],"mark":{"type":"text","font":"Liberation Serif","fontWeight":"bold","fontSize":80,"color":"black","align":"center","baseline":"middle","dy":4},"encoding":{"x":{"datum":"IRHO-2501_40","type":"nominal","bandPosition":-1.4108,"axis":{"title":null}},"y":{"datum":7.75,"type":"quantitative","axis":{"title":null}},"text":{"field":"panel"}}}
]},
{"data":{"name":"vals"},"transform":[{"filter":"datum.panel == 'N'"}],"mark":{"type":"point","shape":"diamond","filled":true,"size":1540,"opacity":1,"color":"#009999"},"encoding":{
"x":{"field":"sample","type":"nominal","axis":{"title":null}},
"y":{"field":"rnaseq","type":"quantitative","scale":{"domain":[0,7],"range":[536.1,65.7],"nice":false,"zero":false},"axis":{"title":null,"orient":"right","offset":-56.5,"values":[0,1,2,3,4,5,6,7],"grid":false,"labelExpr":"(datum.value < 0 ? '-' : '') + abs(datum.value)"}}}}
]},
{"width":914,"height":787,"resolve":{"scale":{"y":"independent"}},"layer":[
{"layer":[
{"data":{"name":"vals"},"transform":[{"filter":"datum.panel == 'O'"}],"mark":{"type":"bar","color":"#E5AE00"},"encoding":{
"x":{"field":"sample","type":"nominal","scale":{"domain":["IRHO-2501_40","IRHO-2501_70","IRHO-7001_40","IRHO-7001_70"],"range":[119.6,818.3],"paddingInner":0.58,"paddingOuter":0.29},"axis":{"title":null,"offset":-233.5}},
"y":{"field":"rtqpcr","type":"quantitative","scale":{"domain":[0,4],"range":[534.1,64.7],"nice":false,"zero":false},"axis":{"title":null,"offset":-82.3,"values":[0,1,2,3,4],"grid":true,"labelExpr":"datum.value >= 4 ? '' : (datum.value < 0 ? '-' : '') + abs(datum.value)"}}}},
{"data":{"name":"panels"},"transform":[{"filter":"datum.panel == 'O'"}],"mark":{"type":"point","shape":"M-0.818,-1L0.818,-1L0.818,1L-0.818,1Z","size":21025,"filled":true,"fill":"white","stroke":"black","strokeWidth":5,"opacity":1},"encoding":{"x":{"datum":"IRHO-2501_40","type":"nominal","bandPosition":-1.4318,"axis":{"title":null}},"y":{"datum":3.866,"type":"quantitative","axis":{"title":null}}}},
{"data":{"name":"panels"},"transform":[{"filter":"datum.panel == 'O'"}],"mark":{"type":"text","font":"Liberation Serif","fontWeight":"bold","fontSize":80,"color":"black","align":"center","baseline":"middle","dy":4},"encoding":{"x":{"datum":"IRHO-2501_40","type":"nominal","bandPosition":-1.4318,"axis":{"title":null}},"y":{"datum":3.866,"type":"quantitative","axis":{"title":null}},"text":{"field":"panel"}}}
]},
{"data":{"name":"vals"},"transform":[{"filter":"datum.panel == 'O'"}],"mark":{"type":"point","shape":"diamond","filled":true,"size":1540,"opacity":1,"color":"#009999"},"encoding":{
"x":{"field":"sample","type":"nominal","axis":{"title":null}},
"y":{"field":"rnaseq","type":"quantitative","scale":{"domain":[0,4],"range":[534.1,64.7],"nice":false,"zero":false},"axis":{"title":null,"orient":"right","offset":-58.5,"values":[0,1,2,3,4],"grid":false,"labelExpr":"(datum.value < 0 ? '-' : '') + abs(datum.value)"}}}}
]}
]
}
],
"config": {
"font": "Liberation Serif",
"view": {"stroke": "black", "strokeWidth": 4},
"title": {"font": "Liberation Serif", "fontSize": 107, "fontWeight": "normal", "color": "black"},
"axis": {"labelFont": "Liberation Serif", "labelColor": "black", "labelFontSize": 40, "ticks": false, "tickSize": 0, "domain": false, "labelPadding": 0, "gridColor": "#D9D9D9", "gridWidth": 4, "gridOpacity": 1, "labelOverlap": false, "zindex": 0},
"axisX": {"labelAngle": -45, "labelAlign": "right", "labelBaseline": "top", "labelFontWeight": "bold", "labelFontSize": 37, "labelLimit": 0, "labelOffset": -6, "grid": false},
"legend": {"labelFont": "Liberation Serif", "labelFontSize": 54, "labelColor": "black", "labelLimit": 0, "symbolSize": 770, "symbolStrokeWidth": 0, "symbolOpacity": 1, "labelOffset": 2, "columnPadding": 22, "padding": 0, "rowPadding": 0}
}
}
